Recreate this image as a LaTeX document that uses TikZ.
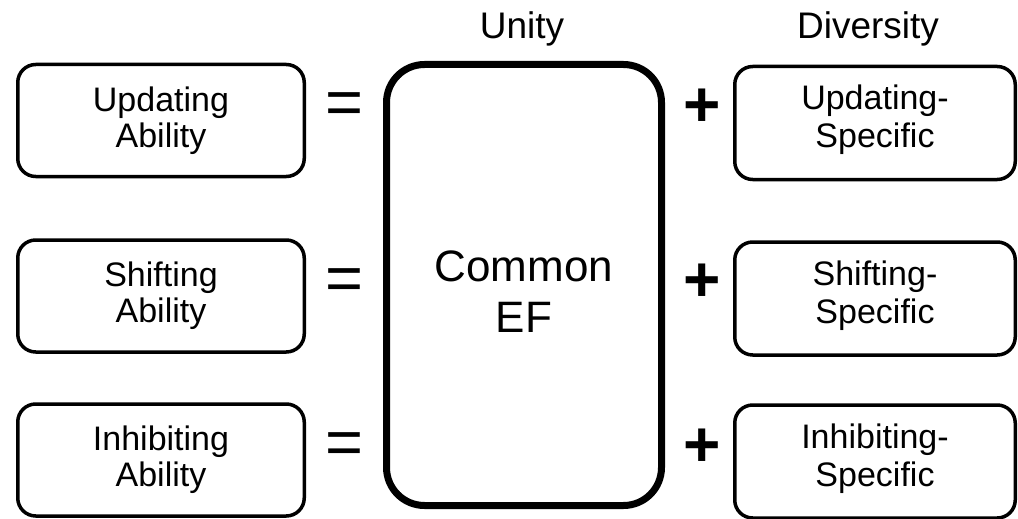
\documentclass[tikz,border=0pt]{standalone}
\usepackage{fontspec}
\setmainfont{Liberation Sans}
\begin{document}
\begin{tikzpicture}[x=1pt,y=-1pt,
  abox/.style={draw, line width=3.5pt, rounded corners=18pt, minimum width=286.5pt,
    minimum height=112pt, align=center, inner sep=0pt, font=\fontsize{34}{36}\selectfont},
  sbox/.style={draw, line width=3.5pt, rounded corners=18pt, minimum width=280.5pt,
    minimum height=113pt, inner sep=0pt},
  stext/.style={align=center, inner sep=0pt, font=\fontsize{34}{38}\selectfont},
  bigbox/.style={draw, line width=7pt, rounded corners=38pt, minimum width=275pt,
    minimum height=441pt, inner sep=0pt},
  bigtext/.style={align=center, inner sep=0pt, font=\fontsize{44}{51}\selectfont},
  head/.style={anchor=base, inner sep=0pt, font=\fontsize{37}{40}\selectfont},
  op/.style={inner sep=0pt, font=\fontsize{65}{70}\selectfont},
  opb/.style={inner sep=0pt, font=\fontsize{64}{70}\selectfont\bfseries}]
\useasboundingbox (0,0) rectangle (1018,519);

\node[head] (unity) at (522,39) {Unity};
\node[head] (div) at (868,39) {Diversity};

\node[abox] (ua) at (161,120.5) {Updating\\Ability};
\node[abox] (sa) at (161,296) {Shifting\\Ability};
\node[abox] (ia) at (161,460) {Inhibiting\\Ability};

\node[bigbox] (cef) at (524,285) {};
\node[bigtext] (cefl) at (524,292) {Common\\EF};

\node[sbox] (us) at (875,123) {};
\node[sbox] (ss) at (875,298.5) {};
\node[sbox] (is) at (875,461.5) {};
\node[stext] (ust) at ([yshift=3pt]us.center) {Updating-\\Specific};
\node[stext] (sst) at ([yshift=3pt]ss.center) {Shifting-\\Specific};
\node[stext] (ist) at ([yshift=3pt]is.center) {Inhibiting-\\Specific};

\node[op] (eq1) at (344,109) {=};
\node[op] (eq2) at (344,285) {=};
\node[op] (eq3) at (344,449) {=};
\node[opb] (pl1) at (702,108) {+};
\node[opb] (pl2) at (702,283) {+};
\node[opb] (pl3) at (702,448) {+};
\end{tikzpicture}
\end{document}
